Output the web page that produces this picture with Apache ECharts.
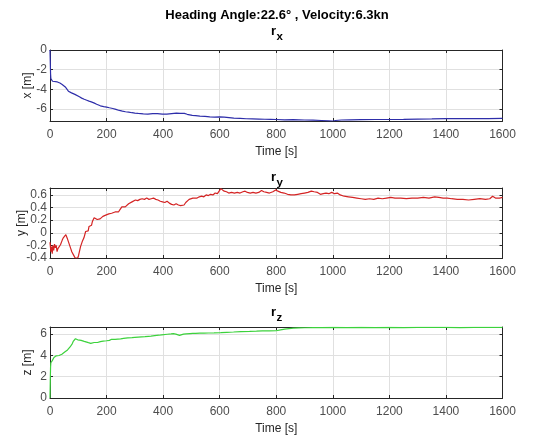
<!DOCTYPE html>
<html><head><meta charset="utf-8">
<script src="https://cdn.jsdelivr.net/npm/echarts@6/dist/echarts.min.js"></script>
<style>html,body{margin:0;padding:0;background:#fff}#c{width:550px;height:439px}</style>
</head><body><div id="c"></div>
<script>
const mainTitle = 'Heading Angle:22.6\u00b0 , Velocity:6.3kn';
const panelSubs = ['x', 'y', 'z'];
const yNames = ['x [m]', 'y [m]', 'z [m]'];
const xName = 'Time [s]';
const timeTicks = [0, 200, 400, 600, 800, 1000, 1200, 1400, 1600];
const rxTicks = [-6, -4, -2, 0];
const ryTicks = [-0.4, -0.2, 0, 0.2, 0.4, 0.6];
const rzTicks = [0, 2, 4, 6];
const yRanges = [[-7.2, 0], [-0.4, 0.71], [0, 6.65]];

const rxData = [[0,0],[1,-1.2],[2,-2.4],[3,-2.9],[5,-3.1],[9,-3.17],[15,-3.2],[26,-3.24],[35,-3.35],[43,-3.5],
[50,-3.62],[54,-3.75],[60,-3.95],[65,-4.18],[70,-4.25],[76,-4.35],[82,-4.42],[88,-4.5],[95,-4.6],[104,-4.75],
[112,-4.88],[121,-5.0],[130,-5.1],[138,-5.19],[146,-5.26],[155,-5.36],[165,-5.5],[178,-5.66],[190,-5.74],[200,-5.8],
[210,-5.86],[222,-5.93],[233,-6.02],[245,-6.13],[256,-6.2],[267,-6.26],[278,-6.3],[290,-6.36],[300,-6.4],[312,-6.43],
[330,-6.47],[346,-6.5],[363,-6.46],[380,-6.46],[397,-6.5],[413,-6.5],[430,-6.45],[447,-6.4],[460,-6.42],[475,-6.43],
[485,-6.52],[492,-6.6],[503,-6.63],[515,-6.66],[530,-6.7],[548,-6.73],[565,-6.78],[582,-6.8],[600,-6.79],[616,-6.8],
[633,-6.85],[650,-6.9],[672,-6.93],[694,-6.97],[716,-6.98],[739,-7.0],[760,-7.02],[780,-7.03],[800,-7.05],[830,-7.08],
[860,-7.06],[900,-7.1],[930,-7.12],[960,-7.15],[985,-7.18],[1000,-7.2],[1010,-7.15],[1030,-7.1],[1060,-7.08],[1100,-7.06],
[1150,-7.05],[1200,-7.05],[1250,-7.03],[1300,-7.0],[1350,-6.98],[1400,-6.95],[1450,-6.96],[1500,-6.95],[1550,-6.95],[1600,-6.93]];

const ryData = [[0,-0.15],[3,-0.3],[5,-0.22],[8,-0.33],[10,-0.2],[13,-0.28],[16,-0.18],[19,-0.24],[22,-0.2],[25,-0.3],
[28,-0.25],[31,-0.22],[34,-0.26],[37,-0.19],[40,-0.16],[43,-0.12],[47,-0.08],[50,-0.05],[53,-0.06],[56,-0.03],
[59,-0.05],[62,-0.1],[65,-0.14],[68,-0.12],[71,-0.22],[74,-0.26],[77,-0.3],[80,-0.29],[83,-0.35],[86,-0.33],
[89,-0.4],[92,-0.37],[95,-0.38],[98,-0.4],[101,-0.36],[104,-0.39],[106,-0.33],[108,-0.22],[111,-0.18],[114,-0.14],
[117,-0.13],[120,-0.08],[123,-0.06],[126,0.02],[129,-0.01],[132,0.05],[135,0.03],[138,0.1],[141,0.08],[144,0.13],
[147,0.12],[150,0.18],[153,0.16],[156,0.24],[159,0.22],[163,0.23],[167,0.21],[172,0.24],[177,0.22],[182,0.23],
[187,0.26],[192,0.25],[197,0.28],[202,0.27],[208,0.3],[213,0.29],[218,0.31],[224,0.28],[230,0.33],[236,0.34],
[242,0.33],[248,0.37],[254,0.41],[260,0.42],[266,0.41],[272,0.43],[278,0.46],[284,0.45],[290,0.49],[296,0.5],
[302,0.52],[310,0.51],[318,0.53],[326,0.54],[334,0.53],[342,0.55],[350,0.53],[358,0.54],[366,0.55],[374,0.53],
[382,0.52],[390,0.5],[398,0.49],[406,0.48],[414,0.5],[422,0.47],[430,0.45],[438,0.44],[446,0.46],[454,0.44],
[462,0.43],[468,0.41],[474,0.44],[480,0.48],[486,0.5],[492,0.53],[498,0.52],[505,0.55],[512,0.56],[520,0.55],
[528,0.57],[536,0.58],[544,0.57],[552,0.6],[560,0.59],[568,0.61],[576,0.6],[584,0.63],[592,0.62],[598,0.66],
[604,0.7],[610,0.68],[616,0.66],[624,0.65],[632,0.63],[642,0.64],[652,0.63],[662,0.64],[672,0.63],[682,0.65],
[690,0.66],[698,0.64],[708,0.63],[718,0.64],[728,0.63],[738,0.64],[748,0.67],[756,0.65],[766,0.64],[776,0.63],
[788,0.65],[798,0.68],[806,0.66],[816,0.64],[828,0.63],[840,0.61],[852,0.6],[864,0.6],[876,0.61],[888,0.62],
[900,0.63],[912,0.64],[924,0.66],[934,0.65],[946,0.64],[956,0.61],[966,0.62],[976,0.63],[986,0.62],[996,0.64],
[1006,0.62],[1016,0.63],[1026,0.6],[1040,0.58],[1055,0.57],[1070,0.56],[1085,0.55],[1100,0.54],[1115,0.53],[1130,0.54],
[1145,0.53],[1160,0.55],[1175,0.54],[1190,0.55],[1205,0.56],[1220,0.55],[1240,0.55],[1260,0.54],[1280,0.55],[1300,0.55],
[1320,0.56],[1340,0.55],[1360,0.57],[1375,0.56],[1390,0.55],[1405,0.55],[1420,0.54],[1440,0.53],[1460,0.53],[1480,0.52],
[1500,0.53],[1520,0.54],[1540,0.53],[1555,0.54],[1565,0.58],[1575,0.55],[1590,0.55],[1600,0.56]];

const rzData = [[0,0],[1,1.6],[2,2.9],[3,3.3],[5,3.35],[8,3.5],[11,3.65],[14,3.8],[18,3.9],[22,3.95],
[27,4.0],[32,3.98],[37,4.05],[42,4.1],[47,4.18],[52,4.3],[57,4.35],[62,4.5],[67,4.6],[71,4.78],
[75,4.9],[79,5.1],[82,5.3],[86,5.45],[90,5.55],[94,5.5],[98,5.45],[104,5.48],[110,5.4],[116,5.35],
[121,5.3],[128,5.25],[136,5.18],[144,5.12],[150,5.15],[156,5.2],[161,5.22],[168,5.2],[178,5.28],[188,5.32],
[200,5.36],[210,5.4],[218,5.5],[222,5.55],[230,5.5],[240,5.52],[250,5.53],[260,5.58],[267,5.6],[275,5.63],
[282,5.66],[290,5.65],[300,5.68],[312,5.7],[324,5.72],[336,5.74],[348,5.78],[357,5.8],[370,5.84],[385,5.88],
[395,5.92],[402,5.94],[415,5.97],[428,6.0],[436,6.03],[445,5.98],[452,5.9],[458,5.87],[465,5.92],[472,5.98],
[481,6.0],[495,6.03],[505,6.05],[515,6.06],[530,6.07],[545,6.08],[560,6.09],[580,6.1],[604,6.12],[625,6.15],
[649,6.18],[675,6.22],[706,6.24],[730,6.26],[751,6.28],[775,6.28],[800,6.3],[815,6.38],[830,6.45],[845,6.5],
[860,6.54],[880,6.56],[900,6.58],[930,6.59],[960,6.6],[1000,6.61],[1050,6.6],[1100,6.62],[1150,6.6],[1200,6.61],
[1250,6.6],[1300,6.61],[1350,6.62],[1400,6.61],[1450,6.6],[1500,6.61],[1550,6.62],[1600,6.61]];

const yTicks = [rxTicks, ryTicks, rzTicks];
const datasets = [rxData, ryData, rzData];
const lineColors = ['#2e2eaa', '#d42424', '#3cd23c'];

const FONT = 'Liberation Sans, Arial, Helvetica, sans-serif';
const gridTops = [50, 188, 327];
const gridHeights = [71, 70, 71];
const yNameGaps = [16, 22, 16];
const boxColor = '#262626';

const grids = [], xAxes = [], yAxes = [], series = [], graphics = [];
for (let i = 0; i < 3; i++) {
  grids.push({ left: 50, width: 452.5, top: gridTops[i], height: gridHeights[i], containLabel: false, outerBoundsMode: 'none' });
  xAxes.push({
    type: 'value', gridIndex: i, min: 0, max: 1600, interval: 200, position: 'bottom',
    name: xName, nameLocation: 'middle', nameGap: 25, nameMoveOverlap: false,
    nameTextStyle: { color: '#262626', fontSize: 12, fontFamily: FONT },
    axisLine: { show: true, onZero: false, lineStyle: { color: boxColor, width: 1 } },
    axisTick: { show: true, inside: true, length: 3, customValues: timeTicks, lineStyle: { color: boxColor } },
    axisLabel: { color: '#4d4d4d', fontSize: 12, fontFamily: FONT, margin: 8, customValues: timeTicks,
      formatter: v => String(v) },
    splitLine: { show: true, lineStyle: { color: '#e0e0e0', width: 1 } }
  });
  xAxes.push({
    type: 'value', gridIndex: i, min: 0, max: 1600, interval: 200, position: 'top',
    axisLine: { show: true, onZero: false, lineStyle: { color: boxColor, width: 1 } },
    axisTick: { show: true, inside: true, length: 3, customValues: timeTicks, lineStyle: { color: boxColor } },
    axisLabel: { show: false }, splitLine: { show: false }
  });
  yAxes.push({
    type: 'value', gridIndex: i, min: yRanges[i][0], max: yRanges[i][1], position: 'left',
    name: yNames[i], nameLocation: 'middle', nameGap: yNameGaps[i], nameRotate: 90, nameMoveOverlap: false,
    nameTextStyle: { color: '#262626', fontSize: 12, fontFamily: FONT },
    axisLine: { show: true, onZero: false, lineStyle: { color: boxColor, width: 1 } },
    axisTick: { show: true, inside: true, length: 3, customValues: yTicks[i], lineStyle: { color: boxColor } },
    axisLabel: { color: '#4d4d4d', fontSize: 12, fontFamily: FONT, margin: 3, customValues: yTicks[i],
      formatter: v => String(Math.round(v * 10) / 10) },
    splitLine: { show: true, lineStyle: { color: '#e0e0e0', width: 1 } }
  });
  yAxes.push({
    type: 'value', gridIndex: i, min: yRanges[i][0], max: yRanges[i][1], position: 'right',
    axisLine: { show: true, onZero: false, lineStyle: { color: boxColor, width: 1 } },
    axisTick: { show: true, inside: true, length: 3, customValues: yTicks[i], lineStyle: { color: boxColor } },
    axisLabel: { show: false }, splitLine: { show: false }
  });
  series.push({
    type: 'line', xAxisIndex: i * 2, yAxisIndex: i * 2, data: datasets[i],
    showSymbol: false, symbol: 'none', clip: true,
    lineStyle: { color: lineColors[i], width: 1.2 }, itemStyle: { color: lineColors[i] }
  });
}

const subTitleY = [31, 177, 312];
graphics.push({ type: 'text', x: 277, y: 15, style: { text: mainTitle, fill: '#000', font: 'bold 13px ' + FONT, textAlign: 'center', textVerticalAlign: 'middle' } });
for (let i = 0; i < 3; i++) {
  graphics.push({ type: 'text', x: 276, y: subTitleY[i], style: { text: 'r', fill: '#000', font: 'bold 13px ' + FONT, textAlign: 'right', textVerticalAlign: 'middle' } });
  graphics.push({ type: 'text', x: 276.5, y: subTitleY[i] + 6, style: { text: panelSubs[i], fill: '#000', font: 'bold 11.5px ' + FONT, textAlign: 'left', textVerticalAlign: 'middle' } });
}

const chart = echarts.init(document.getElementById('c'), null, { renderer: 'canvas' });
chart.setOption({
  animation: false,
  backgroundColor: '#fff',
  grid: grids, xAxis: xAxes, yAxis: yAxes, series: series, graphic: graphics
});
</script></body></html>
